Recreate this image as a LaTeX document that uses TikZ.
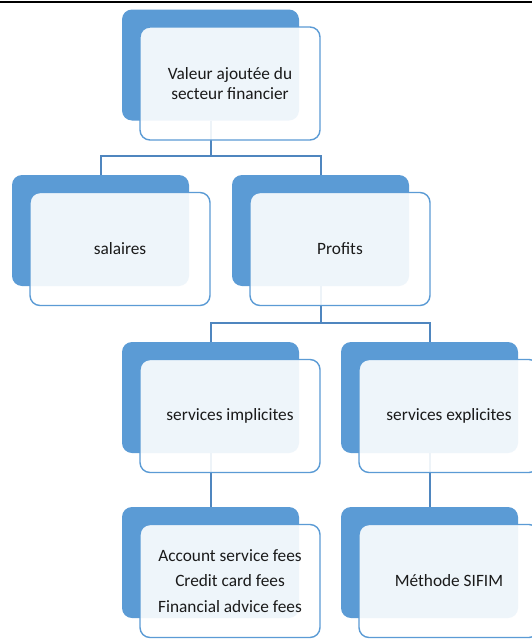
\documentclass[tikz,border=0pt]{standalone}
\usepackage{fontspec}
\setmainfont{Carlito}
\definecolor{accblue}{HTML}{5B9BD5}
\definecolor{connblue}{HTML}{4F86BF}
\definecolor{txt}{HTML}{1A1A1A}
\begin{document}
\begin{tikzpicture}[x=1pt,y=-1pt,
  backbox/.style={anchor=north west,rectangle,rounded corners=10pt,fill=accblue,
    inner sep=0pt,outer sep=0pt,minimum width=177pt,minimum height=111pt},
  frontbox/.style={anchor=north west,rectangle,rounded corners=10pt,draw=accblue,line width=1.4pt,
    fill=white,fill opacity=0.9,text opacity=1,text=txt,align=center,
    inner sep=0pt,outer sep=0pt,minimum width=180pt,minimum height=113pt,
    font=\fontsize{17.3}{19.3}\selectfont},
  conn/.style={draw=connblue,line width=2pt}]
\clip (0,0) rectangle (532,640);
\fill[white] (0,0) rectangle (532,640);
\draw[line width=2.2pt,black] (0,1.8) -- (532,1.8);
% back boxes
\node[backbox] (topB) at (122,9.5) {};
\node[backbox] (salB) at (12,175) {};
\node[backbox] (proB) at (232,175) {};
\node[backbox] (impB) at (122,342) {};
\node[backbox] (expB) at (341,342) {};
\node[backbox] (accB) at (122,507) {};
\node[backbox] (metB) at (341,507) {};
% connectors
\draw[conn] (topB.south) -- ++(0,35.5) -| (salB.north);
\draw[conn] (topB.south) -- ++(0,35.5) -| (proB.north);
\draw[conn] (proB.south) -- ++(0,37) -| (impB.north);
\draw[conn] (proB.south) -- ++(0,37) -| (expB.north);
\draw[conn] (impB.south) -- (accB.north);
\draw[conn] (expB.south) -- (metB.north);
% front boxes
\node[frontbox] (topF) at (140,27) {Valeur ajoutée du\\secteur financier};
\node[frontbox] (salF) at (30,192.5) {salaires};
\node[frontbox] (proF) at (250,192.5) {Profits};
\node[frontbox] (impF) at (140,359.5) {services implicites};
\node[frontbox] (expF) at (359,359.5) {services explicites};
\node[frontbox,font=\fontsize{17.3}{25.8}\selectfont] (accF) at (140,524.5) {Account service fees\\Credit card fees\\Financial advice fees};
\node[frontbox] (metF) at (359,524.5) {Méthode SIFIM};
\end{tikzpicture}
\end{document}
